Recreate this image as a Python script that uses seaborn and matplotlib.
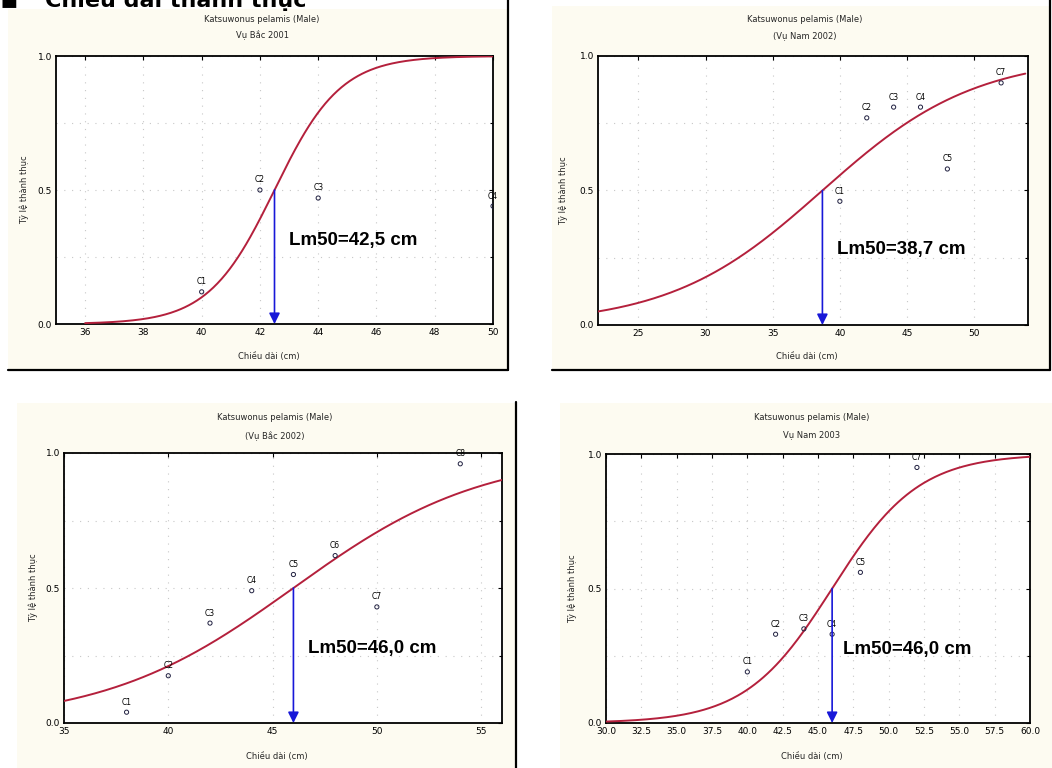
import numpy as np
import pandas as pd
import matplotlib
matplotlib.use("Agg")
import matplotlib.pyplot as plt
from matplotlib.patches import Rectangle
from matplotlib.ticker import FixedLocator, MultipleLocator, FormatStrFormatter
import seaborn as sns

# ---------------- data ----------------
titles = ["Vụ Bắc 2001", "(Vụ Nam 2002)", "(Vụ Bắc 2002)", "Vụ Nam 2003"]
species = "Katsuwonus pelamis (Male)"

lm50 = [42.5, 38.7, 46.0, 46.0]          # length at 50 % maturity
slope = [0.88, 0.176, 0.22, 0.326]       # fitted logistic slope
curve_from = [36.0, 22.0, 35.0, 30.0]
curve_to = [50.0, 53.8, 56.0, 60.0]
lm50_text = ["Lm50=42,5 cm", "Lm50=38,7 cm", "Lm50=46,0 cm", "Lm50=46,0 cm"]

p1_len = [40, 42, 44, 50]
p1_prop = [0.12, 0.50, 0.47, 0.44]
p1_lab = ["C1", "C2", "C3", "C4"]

p2_len = [40, 42, 44, 46, 48, 52]
p2_prop = [0.46, 0.77, 0.81, 0.81, 0.58, 0.90]
p2_lab = ["C1", "C2", "C3", "C4", "C5", "C7"]

p3_len = [38, 40, 42, 44, 46, 48, 50, 54]
p3_prop = [0.04, 0.175, 0.37, 0.49, 0.55, 0.62, 0.43, 0.96]
p3_lab = ["C1", "C2", "C3", "C4", "C5", "C6", "C7", "C8"]

p4_len = [40, 42, 44, 46, 48, 52]
p4_prop = [0.19, 0.33, 0.35, 0.33, 0.56, 0.95]
p4_lab = ["C1", "C2", "C3", "C4", "C5", "C7"]

xlims = [(35, 50), (22, 54), (35, 56), (30, 60)]
xticks = [list(range(36, 51, 2)), list(range(25, 51, 5)), list(range(35, 56, 5)),
          [30.0, 32.5, 35.0, 37.5, 40.0, 42.5, 45.0, 47.5, 50.0, 52.5, 55.0, 57.5, 60.0]]
text_pos = [(43.0, 0.31), (39.8, 0.28), (46.7, 0.275), (46.8, 0.273)]

ylabel = "Tỷ lệ thành thục"
xlabel = "Chiều dài (cm)"
heading = "Chiều dài thành thục"

# ---------------- layout ----------------
W, H = 1052, 768
sns.set_theme(style="white")
plt.rcParams["font.family"] = ["DejaVu Sans"]
fig = plt.figure(figsize=(W / 100, H / 100), dpi=100)
fig.patch.set_facecolor("white")

def fx(px):
    return px / W

def fy(py):
    return 1 - py / H

# beige panel frames (x0, y0, x1, y1 in pixels)
frames = [(8, 9, 508, 370), (552, 6, 1050, 370), (17, 403, 515, 768), (560, 403, 1052, 768)]
for (x0, y0, x1, y1) in frames:
    fig.patches.append(Rectangle((fx(x0), fy(y1)), fx(x1 - x0), (y1 - y0) / H,
                                 transform=fig.transFigure, facecolor="#FDFBF1",
                                 edgecolor="none", zorder=-5))
# black frame borders
border = dict(color="black", lw=1.6, transform=fig.transFigure, zorder=-1)
fig.lines.append(plt.Line2D([fx(508), fx(508)], [fy(0), fy(370)], **border))
fig.lines.append(plt.Line2D([fx(8), fx(508)], [fy(370), fy(370)], **border))
fig.lines.append(plt.Line2D([fx(552), fx(1050)], [fy(370), fy(370)], **border))
fig.lines.append(plt.Line2D([fx(1050), fx(1050)], [fy(0), fy(370)], **border))
fig.lines.append(plt.Line2D([fx(516), fx(516)], [fy(402), fy(768)], **border))

# partially visible heading of the document above (cut at the top, as in the source)
fig.text(fx(0), fy(7), "▪", fontsize=20, fontweight="bold",
         ha="left", va="baseline", color="black", zorder=1)
fig.text(fx(45), fy(7), heading, fontsize=16, fontweight="bold",
         ha="left", va="baseline", color="black", zorder=1)

axes_px = [(56, 56, 493, 324), (598, 56, 1028, 325), (64, 453, 502, 723), (606, 454, 1030, 723)]
title_cx = [262, 805, 275, 812]
title_y = [(20, 34), (20, 36), (418, 435), (418, 435)]
ylab_x = [24, 563, 33, 572]
xlab_y = [357, 357, 757, 757]

lens = [p1_len, p2_len, p3_len, p4_len]
props = [p1_prop, p2_prop, p3_prop, p4_prop]
labs = [p1_lab, p2_lab, p3_lab, p4_lab]

for i in range(4):
    x0, y0, x1, y1 = axes_px[i]
    ax = fig.add_axes([fx(x0), fy(y1), fx(x1 - x0), (y1 - y0) / H])
    ax.set_zorder(2)
    ax.set_facecolor("white")

    # fitted logistic curve
    xs = np.linspace(curve_from[i], curve_to[i], 300)
    curve = pd.DataFrame({"len": xs, "p": 1 / (1 + np.exp(-slope[i] * (xs - lm50[i])))})
    sns.lineplot(data=curve, x="len", y="p", ax=ax, color="#B4203C", lw=1.4, zorder=3)

    # observed points
    obs = pd.DataFrame({"len": lens[i], "p": props[i], "lab": labs[i]})
    sns.scatterplot(data=obs, x="len", y="p", ax=ax, marker="o", s=9,
                    facecolor="none", edgecolor="#202040", linewidth=0.7, zorder=4)
    for _, r in obs.iterrows():
        ax.annotate(r["lab"], (r["len"], r["p"]), xytext=(0, 4), textcoords="offset points",
                    ha="center", va="bottom", fontsize=5.5, color="black",
                    annotation_clip=False)

    # Lm50 arrow
    ax.annotate("", xy=(lm50[i], 0.0), xytext=(lm50[i], 0.5),
                arrowprops=dict(arrowstyle="-|>", color="#1818D8", lw=1.2,
                                mutation_scale=16, shrinkA=0, shrinkB=0), zorder=5)
    ax.text(text_pos[i][0], text_pos[i][1], lm50_text[i], fontsize=13.5,
            fontweight="bold", family="Liberation Sans", ha="left", va="center",
            color="black", zorder=6)

    ax.set_xlim(*xlims[i])
    ax.set_ylim(0, 1)
    ax.xaxis.set_major_locator(FixedLocator(xticks[i]))
    if i == 3:
        ax.xaxis.set_major_formatter(FormatStrFormatter("%.1f"))
    else:
        ax.xaxis.set_major_formatter(FormatStrFormatter("%d"))
    ax.yaxis.set_major_locator(FixedLocator([0.0, 0.5, 1.0]))
    ax.yaxis.set_minor_locator(MultipleLocator(0.25))
    ax.yaxis.set_major_formatter(FormatStrFormatter("%.1f"))
    ax.tick_params(axis="both", which="both", direction="in", length=3, width=0.8,
                   labelsize=6.5, pad=3, top=True, right=True, colors="black")
    ax.tick_params(axis="y", which="minor", length=2, left=False, right=True)
    ax.grid(True, which="major", axis="x", color="#C8C8C8", lw=0.8, ls=(0, (1, 6)))
    ax.grid(True, which="both", axis="y", color="#C8C8C8", lw=0.8, ls=(0, (1, 6)))
    for s in ax.spines.values():
        s.set_visible(True)
        s.set_color("black")
        s.set_linewidth(1.3)
    ax.set_xlabel("")
    ax.set_ylabel("")

    fig.text(fx(title_cx[i]), fy(title_y[i][0]), species, fontsize=6, ha="center", va="center")
    fig.text(fx(title_cx[i]), fy(title_y[i][1]), titles[i], fontsize=6, ha="center", va="center")
    fig.text(fx(ylab_x[i]), fy((y0 + y1) / 2), ylabel, fontsize=6, rotation=90,
             ha="center", va="center")
    fig.text(fx((x0 + x1) / 2 - 6), fy(xlab_y[i]), xlabel, fontsize=6, ha="center", va="center")

fig.savefig("out.png", dpi=100, facecolor="white")
